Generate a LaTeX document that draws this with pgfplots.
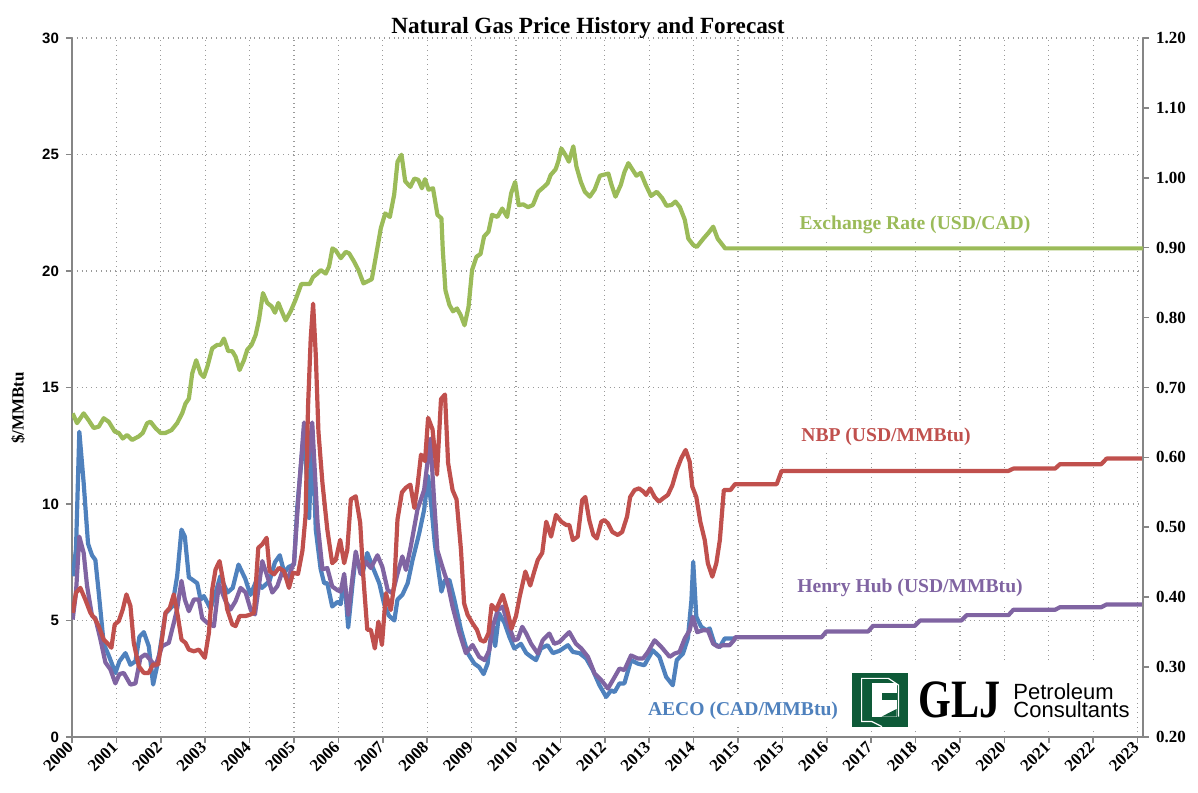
\documentclass[border=0pt]{standalone}
\usepackage{pgfplots}
\pgfplotsset{compat=1.18}
\usepackage{fontspec}
\usepackage{graphicx}
\setmainfont{Liberation Serif}
\newfontfamily\sansf{Liberation Sans}
\definecolor{cgreen}{HTML}{9BBB59}
\definecolor{cred}{HTML}{C0504D}
\definecolor{cpurple}{HTML}{8064A2}
\definecolor{cblue}{HTML}{4F81BD}
\definecolor{caxis}{HTML}{868686}
\definecolor{cgrid}{HTML}{9A9A9A}
\definecolor{clogo}{HTML}{0E5A38}
\begin{document}
\begin{tikzpicture}
\begin{axis}[
  at={(0,0)}, anchor=south west,
  scale only axis, width=535.5pt, height=349.5pt,
  xmin=0, xmax=24.12, ymin=0, ymax=30,
  axis x line*=bottom, axis y line*=left,
  axis line style={caxis, line width=1pt},
  xtick={0,...,24},
  xticklabels={2000,2001,2002,2003,2004,2005,2006,2007,2008,2009,2010,2011,2012,2013,2014,2015,2015,2016,2017,2018,2019,2020,2021,2022,2023},
  ytick={0,5,10,15,20,25,30},
  yticklabels={0,5,10,15,20,25,30},
  grid=major,
  grid style={cgrid, dotted, line width=0.6pt},
  tick align=outside, major tick length=3pt,
  tick style={caxis, line width=0.8pt},
  xticklabel style={rotate=45, anchor=east, font=\bfseries\fontsize{8.5}{10}\selectfont, inner sep=1pt},
  yticklabel style={font=\sansf\bfseries\fontsize{7.5}{9}\selectfont},
  every axis plot/.append style={line width=2.1pt, line join=round},
]
\addplot[cblue] coordinates {(0.015,6.9)(0.09,8.05)(0.165,13.1)(0.263,10.9)(0.361,8.3)(0.45,7.8)(0.526,7.6)(0.602,6.2)(0.714,4.0)(0.827,3.5)(0.977,2.75)(1.068,3.25)(1.203,3.6)(1.316,3.1)(1.429,3.25)(1.519,4.3)(1.617,4.5)(1.729,3.9)(1.827,2.25)(1.94,3.25)(2.105,5.3)(2.256,5.6)(2.368,6.9)(2.466,8.9)(2.541,8.6)(2.632,6.85)(2.707,6.76)(2.82,6.6)(2.895,5.9)(2.97,6.05)(3.12,5.5)(3.25,6.3)(3.34,6.9)(3.5,6.2)(3.62,6.4)(3.75,7.4)(3.9,6.8)(4.02,6.1)(4.15,6.7)(4.28,6.4)(4.45,6.7)(4.57,7.5)(4.68,7.8)(4.78,7.05)(4.88,7.3)(5.0,7.4)(5.075,9.9)(5.15,11.5)(5.226,13.2)(5.34,9.4)(5.41,13.2)(5.49,8.9)(5.6,7.2)(5.68,6.6)(5.75,6.6)(5.86,5.6)(5.98,5.8)(6.05,5.7)(6.13,6.9)(6.22,4.7)(6.32,6.6)(6.39,7.75)(6.54,7.0)(6.65,7.9)(6.77,7.3)(6.92,6.6)(7.03,5.7)(7.14,5.2)(7.26,5.0)(7.33,5.9)(7.44,6.1)(7.56,6.6)(7.67,7.6)(7.82,8.75)(7.93,9.75)(8.02,11.2)(8.1,9.75)(8.17,8.3)(8.23,7.46)(8.32,6.24)(8.4,6.74)(8.5,6.74)(8.61,5.9)(8.76,4.6)(8.91,3.6)(9.06,3.15)(9.17,3.0)(9.27,2.7)(9.36,3.15)(9.47,4.9)(9.53,3.9)(9.62,5.3)(9.74,4.9)(9.85,4.3)(9.96,3.8)(10.11,4.0)(10.23,3.6)(10.34,3.44)(10.45,3.3)(10.56,3.8)(10.71,3.94)(10.83,3.6)(10.98,3.7)(11.17,3.94)(11.28,3.65)(11.43,3.6)(11.58,3.37)(11.73,2.87)(11.88,2.22)(12.03,1.72)(12.14,2.0)(12.22,1.93)(12.33,2.3)(12.44,2.3)(12.59,3.3)(12.74,3.15)(12.89,3.08)(13.08,3.72)(13.23,3.44)(13.38,2.58)(13.53,2.22)(13.62,3.3)(13.76,3.58)(13.87,4.23)(13.95,5.87)(13.99,7.52)(14.06,5.16)(14.17,4.73)(14.29,4.58)(14.36,4.66)(14.47,4.0)(14.59,3.87)(14.7,4.23)(14.96,4.23)};
\addplot[cpurple] coordinates {(0.015,5.04)(0.09,6.2)(0.165,8.6)(0.263,7.9)(0.338,6.5)(0.451,5.2)(0.526,5.1)(0.639,4.2)(0.752,3.2)(0.865,2.9)(0.977,2.3)(1.068,2.7)(1.165,2.75)(1.316,2.25)(1.429,2.3)(1.541,3.4)(1.654,3.55)(1.767,3.3)(1.88,3.04)(2.03,3.9)(2.18,4.04)(2.293,4.9)(2.368,5.5)(2.466,6.7)(2.541,5.9)(2.632,5.4)(2.744,5.9)(2.857,5.9)(2.932,5.1)(3.045,4.9)(3.195,4.75)(3.308,6.55)(3.459,5.83)(3.571,5.47)(3.684,5.83)(3.797,6.4)(3.91,6.2)(4.023,5.47)(4.12,5.26)(4.286,7.55)(4.398,6.9)(4.511,6.2)(4.624,6.47)(4.737,7.1)(4.85,6.76)(5.0,7.48)(5.11,10.6)(5.226,13.5)(5.316,11.8)(5.41,13.5)(5.53,9.2)(5.64,7.2)(5.75,7.25)(5.86,6.46)(5.98,6.3)(6.05,6.24)(6.13,7.0)(6.22,5.24)(6.32,6.9)(6.39,7.96)(6.5,7.0)(6.62,7.53)(6.73,7.25)(6.88,7.8)(6.99,7.3)(7.11,6.3)(7.22,6.17)(7.33,7.0)(7.44,7.75)(7.52,7.17)(7.63,8.18)(7.78,9.76)(7.93,10.6)(8.07,12.8)(8.16,10.0)(8.23,8.0)(8.35,7.25)(8.46,6.6)(8.57,5.6)(8.72,4.5)(8.87,3.6)(9.02,3.95)(9.17,3.44)(9.29,3.3)(9.4,3.73)(9.47,4.7)(9.59,5.45)(9.7,5.6)(9.81,4.88)(9.89,4.5)(9.96,4.15)(10.04,4.2)(10.14,4.73)(10.23,4.44)(10.34,4.0)(10.49,3.58)(10.6,4.15)(10.75,4.44)(10.86,4.0)(10.98,4.08)(11.09,4.3)(11.2,4.5)(11.35,4.0)(11.47,3.8)(11.62,3.44)(11.77,2.72)(11.92,2.44)(12.07,2.08)(12.18,2.44)(12.33,2.94)(12.44,2.87)(12.59,3.5)(12.74,3.37)(12.86,3.37)(12.97,3.65)(13.12,4.15)(13.27,3.87)(13.46,3.44)(13.57,3.58)(13.68,3.65)(13.8,4.23)(13.91,4.58)(13.98,5.16)(14.08,4.5)(14.21,4.58)(14.32,4.58)(14.44,4.0)(14.55,3.87)(14.66,3.94)(14.81,3.94)(14.92,4.18)(14.93,4.28)(16.88,4.28)(16.99,4.53)(17.93,4.53)(18.04,4.77)(18.98,4.77)(19.1,5.0)(20.03,5.0)(20.15,5.23)(21.09,5.23)(21.2,5.46)(22.14,5.46)(22.25,5.57)(23.18,5.57)(23.3,5.69)(24.12,5.69)};
\addplot[cred] coordinates {(0.015,5.33)(0.09,6.19)(0.188,6.4)(0.3,5.9)(0.414,5.33)(0.526,5.04)(0.6,4.76)(0.714,4.18)(0.827,3.97)(0.887,3.83)(0.962,4.83)(1.053,4.97)(1.143,5.47)(1.226,6.12)(1.316,5.62)(1.391,4.04)(1.504,3.04)(1.617,2.75)(1.729,2.75)(1.82,3.11)(1.94,3.11)(2.03,4.25)(2.105,5.33)(2.203,5.54)(2.293,6.12)(2.383,5.19)(2.466,4.18)(2.556,4.04)(2.632,3.75)(2.744,3.68)(2.857,3.75)(2.992,3.4)(3.083,4.47)(3.158,6.33)(3.233,7.19)(3.323,7.55)(3.398,6.76)(3.496,5.47)(3.609,4.83)(3.684,4.76)(3.774,5.19)(3.91,5.19)(4.023,5.26)(4.098,5.33)(4.195,8.12)(4.286,8.27)(4.383,8.55)(4.451,7.12)(4.549,6.98)(4.662,7.26)(4.774,7.12)(4.887,6.4)(4.977,7.05)(5.09,7.0)(5.19,8.0)(5.26,9.5)(5.316,14.2)(5.376,17.1)(5.43,18.6)(5.49,16.4)(5.55,13.1)(5.64,10.9)(5.75,8.9)(5.86,7.46)(5.94,7.6)(6.04,8.46)(6.13,7.46)(6.2,8.03)(6.28,10.2)(6.39,10.33)(6.49,9.2)(6.56,6.9)(6.65,4.6)(6.73,4.6)(6.82,3.8)(6.9,4.95)(6.98,3.95)(7.07,6.17)(7.18,5.45)(7.26,6.6)(7.33,9.33)(7.43,10.5)(7.52,10.7)(7.62,10.83)(7.71,9.83)(7.78,10.76)(7.86,12.12)(7.95,11.84)(8.02,13.7)(8.12,13.2)(8.22,11.26)(8.31,14.5)(8.4,14.7)(8.47,11.76)(8.57,10.6)(8.66,10.2)(8.76,8.03)(8.83,5.74)(8.91,5.24)(9.02,4.88)(9.12,4.6)(9.2,4.16)(9.29,4.09)(9.38,4.45)(9.45,5.67)(9.55,5.45)(9.7,6.1)(9.8,5.45)(9.9,4.65)(10.0,5.2)(10.08,6.0)(10.21,7.1)(10.32,6.5)(10.41,7.1)(10.49,7.6)(10.59,7.9)(10.68,9.24)(10.79,8.6)(10.9,9.53)(11.02,9.24)(11.13,9.1)(11.2,9.1)(11.28,8.45)(11.39,8.6)(11.49,10.17)(11.56,10.3)(11.65,9.3)(11.74,8.67)(11.82,8.52)(11.92,9.24)(11.99,9.31)(12.07,9.17)(12.17,8.8)(12.29,8.67)(12.39,8.8)(12.5,9.46)(12.57,10.3)(12.67,10.6)(12.77,10.67)(12.87,10.53)(12.93,10.39)(13.02,10.67)(13.12,10.3)(13.22,10.1)(13.31,10.24)(13.42,10.39)(13.52,10.8)(13.62,11.46)(13.72,11.96)(13.82,12.32)(13.91,11.82)(13.97,10.74)(14.06,10.3)(14.15,9.24)(14.25,8.45)(14.32,7.45)(14.42,6.88)(14.51,7.45)(14.59,8.45)(14.68,10.6)(14.83,10.6)(14.93,10.85)(15.87,10.85)(15.98,11.42)(21.09,11.42)(21.2,11.52)(22.14,11.52)(22.25,11.71)(23.18,11.71)(23.3,11.95)(24.12,11.95)};
\end{axis}
\begin{axis}[
  at={(0,0)}, anchor=south west,
  scale only axis, width=535.5pt, height=349.5pt,
  xmin=0, xmax=24.12, ymin=0.2, ymax=1.2,
  axis x line=none, axis y line*=right,
  axis line style={caxis, line width=1pt},
  ytick={0.2,0.3,0.4,0.5,0.6,0.7,0.8,0.9,1.0,1.1,1.2},
  yticklabels={0.20,0.30,0.40,0.50,0.60,0.70,0.80,0.90,1.00,1.10,1.20},
  tick align=outside, major tick length=3pt,
  tick style={caxis, line width=0.8pt},
  yticklabel style={font=\bfseries\fontsize{8.5}{10}\selectfont},
  every axis plot/.append style={line width=2.1pt, line join=round},
]
\addplot[cgreen] coordinates {(0.015,0.663)(0.113,0.649)(0.263,0.663)(0.376,0.653)(0.489,0.642)(0.602,0.644)(0.714,0.656)(0.827,0.651)(0.962,0.637)(1.053,0.635)(1.143,0.627)(1.241,0.632)(1.353,0.625)(1.504,0.630)(1.594,0.635)(1.692,0.649)(1.767,0.651)(1.88,0.642)(1.992,0.635)(2.105,0.635)(2.241,0.639)(2.368,0.649)(2.481,0.663)(2.556,0.677)(2.632,0.684)(2.707,0.720)(2.797,0.739)(2.895,0.720)(2.97,0.715)(3.045,0.729)(3.158,0.756)(3.271,0.761)(3.346,0.761)(3.421,0.770)(3.519,0.752)(3.609,0.752)(3.684,0.744)(3.774,0.725)(3.872,0.739)(3.947,0.754)(4.045,0.761)(4.135,0.775)(4.211,0.797)(4.301,0.835)(4.398,0.821)(4.496,0.816)(4.571,0.807)(4.647,0.821)(4.737,0.807)(4.812,0.796)(4.925,0.809)(5.038,0.826)(5.165,0.848)(5.278,0.848)(5.353,0.848)(5.429,0.858)(5.526,0.863)(5.602,0.868)(5.714,0.863)(5.789,0.873)(5.865,0.899)(5.94,0.896)(6.053,0.885)(6.165,0.894)(6.241,0.892)(6.353,0.880)(6.451,0.868)(6.564,0.849)(6.692,0.853)(6.752,0.855)(6.842,0.887)(6.955,0.928)(7.053,0.949)(7.158,0.944)(7.256,0.976)(7.331,1.023)(7.421,1.033)(7.504,0.995)(7.62,0.987)(7.71,0.999)(7.8,0.997)(7.88,0.985)(7.95,0.998)(8.03,0.983)(8.13,0.985)(8.23,0.947)(8.32,0.942)(8.35,0.897)(8.41,0.839)(8.5,0.818)(8.58,0.809)(8.67,0.813)(8.75,0.804)(8.84,0.789)(8.93,0.815)(9.01,0.868)(9.11,0.887)(9.2,0.891)(9.28,0.916)(9.38,0.923)(9.46,0.947)(9.58,0.944)(9.69,0.956)(9.8,0.944)(9.89,0.978)(9.98,0.994)(10.06,0.961)(10.16,0.962)(10.27,0.958)(10.38,0.961)(10.5,0.980)(10.61,0.986)(10.71,0.992)(10.78,1.004)(10.89,1.012)(10.95,1.023)(11.02,1.042)(11.11,1.033)(11.19,1.023)(11.29,1.045)(11.36,1.016)(11.46,0.994)(11.55,0.980)(11.66,0.973)(11.77,0.983)(11.89,1.003)(12.08,1.006)(12.15,0.990)(12.24,0.973)(12.36,0.990)(12.44,1.008)(12.53,1.021)(12.62,1.012)(12.71,1.003)(12.81,1.007)(12.92,0.990)(13.04,0.974)(13.17,0.980)(13.29,0.971)(13.39,0.960)(13.5,0.961)(13.59,0.966)(13.69,0.958)(13.8,0.940)(13.88,0.913)(13.99,0.904)(14.07,0.901)(14.22,0.913)(14.33,0.921)(14.44,0.930)(14.54,0.913)(14.71,0.899)(24.12,0.899)};
\end{axis}
% title and axis label
\node[anchor=base, font=\bfseries\fontsize{11.6}{13}\selectfont] at (258pt,351.5pt) {Natural Gas Price History and Forecast};
\node[rotate=90, font=\bfseries\fontsize{8.5}{10}\selectfont] at (-27pt,164.5pt) {\$/MMBtu};
% series labels
\node[fill=white, text=cgreen, inner xsep=3pt, inner ysep=2pt, font=\bfseries\fontsize{9.8}{11}\selectfont] at (421.5pt,256pt) {Exchange Rate (USD/CAD)};
\node[fill=white, text=cred, inner xsep=3pt, inner ysep=3pt, font=\bfseries\fontsize{9.8}{11}\selectfont] at (407pt,150pt) {NBP (USD/MMBtu)};
\node[fill=white, text=cpurple, inner xsep=3pt, inner ysep=4pt, font=\bfseries\fontsize{9.8}{11}\selectfont] at (419pt,74.5pt) {Henry Hub (USD/MMBtu)};
\node[fill=white, text=cblue, inner xsep=3pt, inner ysep=3pt, font=\bfseries\fontsize{9.8}{11}\selectfont] at (335.5pt,13pt) {AECO (CAD/MMBtu)};
% logo
\fill[white] (386.5pt,4.5pt) rectangle (531.5pt,37pt);
\fill[clogo] (389.8pt,5.2pt) rectangle (417.8pt,32.2pt);
\draw[white, line width=0.6pt] (400pt,7.7pt) -- (394.8pt,7.7pt) -- (394.8pt,29.3pt) -- (408.2pt,29.3pt) -- (413.2pt,26pt) -- (413.2pt,10.2pt);
\draw[white, line width=0.6pt] (400pt,7.7pt) -- (405pt,5.2pt);
\fill[white] (399.8pt,10.2pt) rectangle (412.3pt,26.8pt);
\fill[clogo] (404.8pt,18.5pt) rectangle (412.3pt,22.2pt);
\fill[clogo] (404.8pt,10.2pt) -- (412.3pt,10.2pt) -- (412.3pt,14pt) -- cycle;
\node[anchor=base west, inner sep=0pt, font=\bfseries\fontsize{27}{27}\selectfont] at (423pt,9.5pt) {\scalebox{0.78}[1]{GLJ}};
\node[anchor=base west, inner sep=0pt, font=\sansf\fontsize{11}{11}\selectfont] at (470.5pt,18.5pt) {Petroleum};
\node[anchor=base west, inner sep=0pt, font=\sansf\fontsize{11}{11}\selectfont] at (470.5pt,9.5pt) {Consultants};
\pgfresetboundingbox
\path (-36pt,-27.5pt) rectangle (563pt,368.5pt);
\end{tikzpicture}
\end{document}
